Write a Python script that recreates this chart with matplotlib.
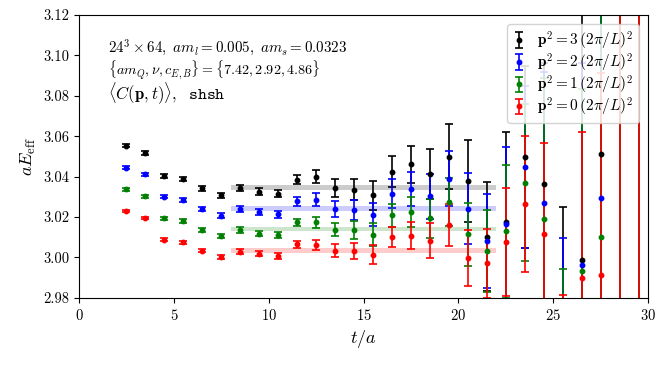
import numpy as np
import matplotlib
matplotlib.use("Agg")
import matplotlib.pyplot as plt

plt.rcParams['font.family'] = 'serif'
plt.rcParams['font.serif'] = ['cmr10']
plt.rcParams['mathtext.fontset'] = 'cm'
plt.rcParams['axes.formatter.use_mathtext'] = True

# time slices (all series share the same t)
t = [2.5, 3.5, 4.5, 5.5, 6.5, 7.5, 8.5, 9.5, 10.5, 11.5, 12.5, 13.5, 14.5, 15.5,
     16.5, 17.5, 18.5, 19.5, 20.5, 21.5, 22.5, 23.5, 24.5, 25.5, 26.5, 27.5, 28.5, 29.5]

# p^2 = 3
E3 = [3.0553, 3.0517, 3.0404, 3.0390, 3.0343, 3.0308, 3.0343, 3.0326, 3.0316, 3.0384,
      3.0399, 3.0344, 3.0336, 3.0308, 3.0425, 3.0460, 3.0413, 3.0499, 3.0377, 3.0103,
      3.0173, 3.0499, 3.0364, 2.970, 2.9988, 3.0511, 3.200, 3.250]
dE3 = [0.0008, 0.0008, 0.0009, 0.0010, 0.0012, 0.0013, 0.0015, 0.0017, 0.0019, 0.0022,
       0.0032, 0.0044, 0.0052, 0.0071, 0.0076, 0.0091, 0.0125, 0.0161, 0.0204, 0.0270,
       0.0450, 0.0450, 0.060, 0.0552, 0.150, 0.150, 0.40, 0.40]
# p^2 = 2
E2 = [3.0445, 3.0412, 3.0300, 3.0285, 3.0240, 3.0207, 3.0239, 3.0224, 3.0214, 3.0278,
      3.0286, 3.0240, 3.0234, 3.0212, 3.0316, 3.0341, 3.0303, 3.0389, 3.0240, 3.0082,
      3.0163, 3.0448, 3.0268, 2.962, 2.9962, 3.0296, 3.180, 2.880]
dE2 = [0.0007, 0.0007, 0.0008, 0.0009, 0.0011, 0.0012, 0.0014, 0.0016, 0.0018, 0.0021,
       0.0032, 0.0039, 0.0048, 0.0058, 0.0070, 0.0084, 0.0111, 0.0136, 0.0176, 0.0233,
       0.0385, 0.040, 0.065, 0.0477, 0.100, 0.150, 0.40, 0.40]
# p^2 = 1
E1 = [3.0338, 3.0303, 3.0194, 3.0181, 3.0138, 3.0107, 3.0136, 3.0118, 3.0110, 3.0173,
      3.0174, 3.0138, 3.0135, 3.0113, 3.0209, 3.0225, 3.0194, 3.0276, 3.0115, 3.0034,
      3.0129, 3.0370, 3.0189, 2.955, 2.9932, 3.0102, 3.150, 2.900]
dE1 = [0.0007, 0.0007, 0.0008, 0.0009, 0.0010, 0.0011, 0.0013, 0.0014, 0.0016, 0.0019,
       0.0027, 0.0034, 0.0043, 0.0055, 0.0056, 0.0074, 0.0097, 0.0118, 0.0155, 0.0203,
       0.033, 0.039, 0.070, 0.0395, 0.090, 0.150, 0.40, 0.40]
# p^2 = 0
E0 = [3.0230, 3.0196, 3.0088, 3.0074, 3.0034, 3.0004, 3.0028, 3.0018, 3.0008, 3.0066,
      3.0061, 3.0034, 3.0031, 3.0013, 3.0100, 3.0108, 3.0082, 3.0161, 2.9998, 2.9970,
      3.0077, 3.0265, 3.0118, 2.950, 2.9897, 2.9914, 2.930, 3.170]
dE0 = [0.0006, 0.0006, 0.0007, 0.0008, 0.0009, 0.0010, 0.0012, 0.0013, 0.0014, 0.0017,
       0.0024, 0.0030, 0.0038, 0.0047, 0.0050, 0.0065, 0.0087, 0.0105, 0.0140, 0.0173,
       0.0269, 0.0336, 0.045, 0.0313, 0.0723, 0.100, 0.50, 0.60]

labels = [r'$\mathbf{p}^2=3\,(2\pi/L)^2$', r'$\mathbf{p}^2=2\,(2\pi/L)^2$',
          r'$\mathbf{p}^2=1\,(2\pi/L)^2$', r'$\mathbf{p}^2=0\,(2\pi/L)^2$']
colors = ['black', 'blue', 'green', 'red']

# fit bands
band_range = [8, 22]
band_center = [3.0346, 3.0242, 3.0140, 3.0034]
band_err = [0.0011, 0.0011, 0.0011, 0.0011]

fig = plt.figure(figsize=(6.64, 3.65), dpi=100)
ax = fig.add_axes([0.119, 0.184, 0.857, 0.775])

series = [(E3, dE3), (E2, dE2), (E1, dE1), (E0, dE0)]
for (E, dE), c, lab in zip(series, colors, labels):
    ax.errorbar(t, E, yerr=dE, fmt='o', color=c, ms=3.2, elinewidth=1.2,
                capsize=3, capthick=1.2, label=lab)

for bc, be, c in zip(band_center, band_err, colors):
    ax.fill_between(band_range, bc - be, bc + be, color=c, alpha=0.2, lw=0)

ax.set_xlim(0, 30)
ax.set_ylim(2.98, 3.12)
ax.set_yticks(np.arange(2.98, 3.1201, 0.02))
ax.set_yticklabels(['%.2f' % v for v in np.arange(2.98, 3.1201, 0.02)])
ax.tick_params(labelsize=10.5)
ax.set_xlabel(r'$t/a$', fontsize=13)
ax.set_ylabel(r'$aE_{\rm eff}$', fontsize=13)

ax.text(0.051, 0.883, r'$24^3\times 64,\ am_l=0.005,\ am_s=0.0323$',
        transform=ax.transAxes, fontsize=10.8, va='center', ha='left')
ax.text(0.051, 0.806, r'$\{am_Q,\nu,c_{E,B}\}=\{7.42,2.92,4.86\}$',
        transform=ax.transAxes, fontsize=10.2, va='center', ha='left')
ax.text(0.051, 0.724, r'$\langle C(\mathbf{p},t)\rangle,\ \ \mathtt{shsh}$',
        transform=ax.transAxes, fontsize=12, va='center', ha='left')

leg = ax.legend(loc='upper right', fontsize=11, handlelength=0.8, handletextpad=0.8,
                labelspacing=0.0, borderpad=0.35, borderaxespad=0.6, framealpha=0.85)

fig.savefig('out.png', dpi=100)
